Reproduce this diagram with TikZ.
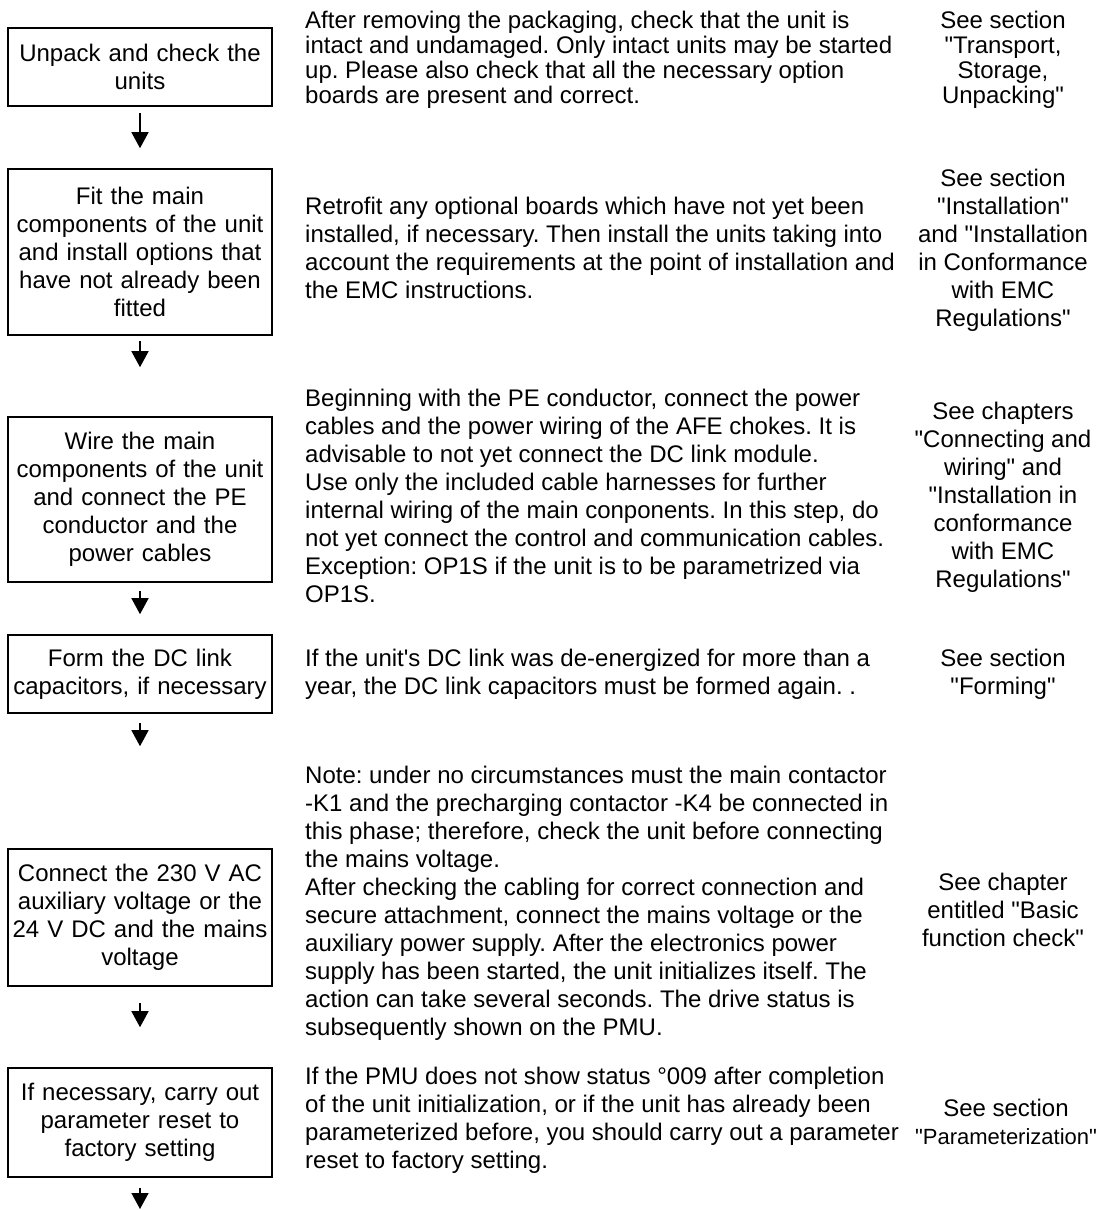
\documentclass[tikz,border=0pt]{standalone}
\usepackage{fontspec}
\newfontfamily\sheetfont{Liberation Sans}
\usepackage{tikz}
\usetikzlibrary{positioning,arrows.meta}
\frenchspacing

\begin{document}
\begin{tikzpicture}[
    x=1pt, y=-1pt,
    font=\sheetfont\fontsize{24}{28}\selectfont,
    stepbox/.style={rectangle, draw=black, line width=1.6pt, minimum width=264pt,
        text width=258pt, inner sep=0pt, align=center},
    note/.style={anchor=west, inner sep=0pt, align=left},
    see/.style={inner sep=0pt, align=center},
    arrow/.style={-{Triangle[width=17pt,length=16pt]}, line width=1.5pt}
]
\useasboundingbox (0,0) rectangle (1099,1210);
\node[stepbox, minimum height=78pt]  (unpack)  at (140,67)     {Unpack and check the\\units};
\node[stepbox, minimum height=166pt] (fit)     at (140,252)    {Fit the main\\components of the unit\\and install options that\\have not already been\\fitted};
\node[stepbox, minimum height=165pt] (wire)    at (140,499.5)  {Wire the main\\components of the unit\\and connect the PE\\conductor and the\\power cables};
\node[stepbox, minimum height=78pt]  (form)    at (140,674)    {Form the DC link\\capacitors, if necessary};
\node[stepbox, minimum height=137pt] (connect) at (140,917.5)  {Connect the 230 V AC\\auxiliary voltage or the\\24 V DC and the mains\\voltage};
\node[stepbox, minimum height=109pt] (reset)   at (140,1122.5) {If necessary, carry out\\parameter reset to\\factory setting};
\coordinate (end) at (140,1209);
\node[note, font=\sheetfont\fontsize{24}{25}\selectfont] (unpackTxt) at (305,60) {After removing the packaging, check that the unit is\\intact and undamaged. Only intact units may be started\\up. Please also check that all the necessary option\\boards are present and correct.};
\node[note] (fitTxt) at (305,248) {Retrofit any optional boards which have not yet been\\installed, if necessary. Then install the units taking into\\account the requirements at the point of installation and\\the EMC instructions.};
\node[note] (wireTxt) at (305,496) {Beginning with the PE conductor, connect the power\\cables and the power wiring of the AFE chokes. It is\\advisable to not yet connect the DC link module.\\Use only the included cable harnesses for further\\internal wiring of the main conponents. In this step, do\\not yet connect the control and communication cables.\\Exception: OP1S if the unit is to be parametrized via\\OP1S.};
\node[note] (formTxt) at (305,674) {If the unit's DC link was de-energized for more than a\\year, the DC link capacitors must be formed again. .};
\node[note] (connectTxt) at (305,903.5) {Note: under no circumstances must the main contactor\\-K1 and the precharging contactor -K4 be connected in\\this phase; therefore, check the unit before connecting\\the mains voltage.\\After checking the cabling for correct connection and\\secure attachment, connect the mains voltage or the\\auxiliary power supply. After the electronics power\\supply has been started, the unit initializes itself. The\\action can take several seconds. The drive status is\\subsequently shown on the PMU.};
\node[note] (resetTxt) at (305,1120) {If the PMU does not show status °009 after completion\\of the unit initialization, or if the unit has already been\\parameterized before, you should carry out a parameter\\reset to factory setting.};
\node[see, font=\sheetfont\fontsize{24}{25}\selectfont] (unpackRef) at (1003,60) {See section\\"Transport,\\Storage,\\Unpacking"};
\node[see] (fitRef) at (1003,250) {See section\\"Installation"\\and "Installation\\in Conformance\\with EMC\\Regulations"};
\node[see] (wireRef) at (1003,497) {See chapters\\"Connecting and\\wiring" and\\"Installation in\\conformance\\with EMC\\Regulations"};
\node[see] (formRef) at (1003,674) {See section\\"Forming"};
\node[see] (connectRef) at (1003,910) {See chapter\\entitled "Basic\\function check"};
\node[see] (resetRef) at (1006,1122) {See section\\{\fontsize{22}{28}\selectfont"Parameterization"}};
\draw[arrow, shorten <=6pt, shorten >=20pt] (unpack) -- (fit);
\draw[arrow, shorten <=5pt, shorten >=49pt] (fit) -- (wire);
\draw[arrow, shorten <=8pt, shorten >=20pt] (wire) -- (form);
\draw[arrow, shorten <=9pt, shorten >=102pt] (form) -- (connect);
\draw[arrow, shorten <=16pt, shorten >=40pt] (connect) -- (reset);
\draw[arrow, shorten <=10pt] (reset) -- (end);
\end{tikzpicture}
\end{document}
